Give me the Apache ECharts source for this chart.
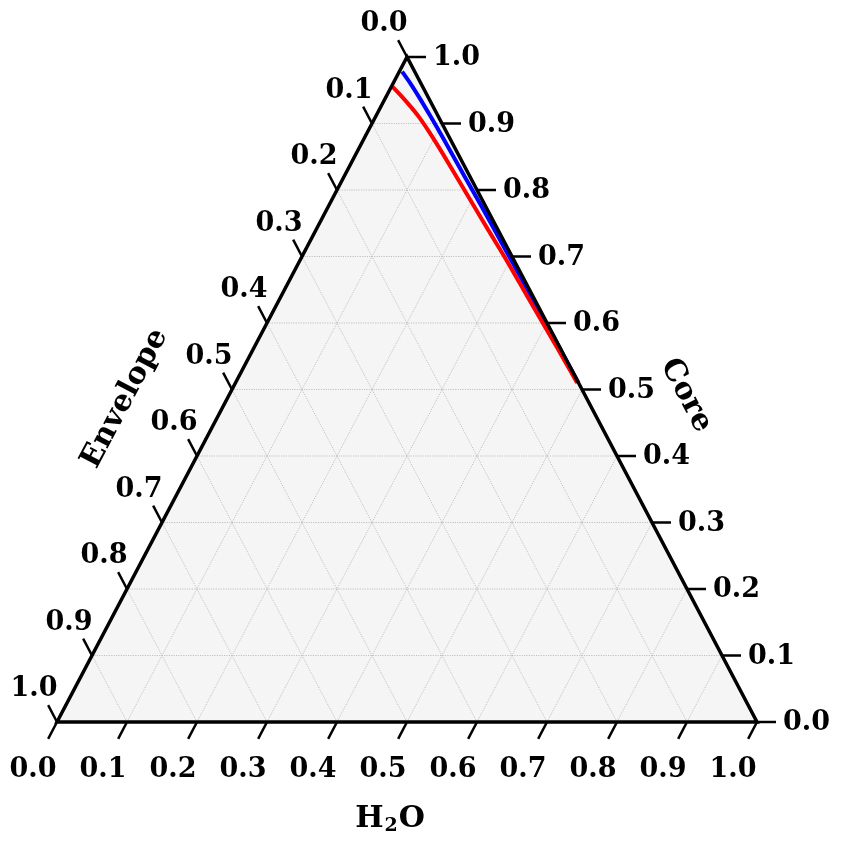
<!DOCTYPE html>
<html>
<head>
<meta charset="utf-8">
<script src="https://cdn.jsdelivr.net/npm/echarts@6/dist/echarts.min.js"></script>
<style>
  html, body { margin: 0; padding: 0; background: #fff; }
  #chart { width: 841px; height: 844px; }
</style>
</head>
<body>
<div id="chart"></div>
<script>
// tick values, same on all three sides
const tickValues = [0.0, 0.1, 0.2, 0.3, 0.4, 0.5, 0.6, 0.7, 0.8, 0.9, 1.0]
const tickLabels = ['0.0', '0.1', '0.2', '0.3', '0.4', '0.5', '0.6', '0.7', '0.8', '0.9', '1.0']
const gridValues = [0.1, 0.2, 0.3, 0.4, 0.5, 0.6, 0.7, 0.8, 0.9]

// red track: core / envelope fractions (H2O is what is left)
const redCore = [0.955, 0.94, 0.925, 0.91, 0.89, 0.86, 0.83, 0.80, 0.77, 0.74, 0.70, 0.66, 0.62, 0.58, 0.54, 0.51]
const redEnvelope = [0.043, 0.037, 0.032, 0.028, 0.025, 0.022, 0.020, 0.018, 0.016, 0.014, 0.011, 0.009, 0.007, 0.005, 0.003, 0.002]

// blue track
const blueCore = [0.978, 0.96, 0.94, 0.91, 0.88, 0.85, 0.82, 0.78, 0.74, 0.70, 0.66, 0.62, 0.58, 0.54, 0.51]
const blueEnvelope = [0.018, 0.015, 0.013, 0.011, 0.0095, 0.0085, 0.0075, 0.006, 0.005, 0.004, 0.003, 0.002, 0.001, 0.0005, 0.0]

const FONT = 'DejaVu Serif'
const TICK_FONT = 'bold 27px "DejaVu Serif"'
const TICK_LEN = 19

// ternary (h2o, core) -> plane: bottom-left (0,0), bottom-right (1,0), top (0.5,1)
function toXY(h2o, core) {
  return [h2o + core / 2, core]
}

function track(core, env) {
  return core.map((c, i) => toXY(1 - c - env[i], c))
}

// grid lines: constant core, constant h2o, constant envelope
const gridLines = []
gridValues.forEach(v => {
  gridLines.push([...toXY(0, v), ...toXY(1 - v, v)])
  gridLines.push([...toXY(v, 0), ...toXY(v, 1 - v)])
  gridLines.push([...toXY(1 - v, 0), ...toXY(0, 1 - v)])
})

// edge directions in pixels (unit vectors)
const LEFT_DIR = [-0.466, 0.885]   // parallel to left edge, pointing down
const RIGHT_DIR = [-0.466, -0.885] // parallel to right edge, pointing up

function tickSeries(side, points) {
  return {
    type: 'custom',
    z: 5,
    clip: false,
    silent: true,
    data: points,
    renderItem: (params, api) => {
      const p = api.coord([api.value(0), api.value(1)])
      const label = tickLabels[params.dataIndex]
      let d, lx, ly, align
      if (side === 'bottom') {
        d = LEFT_DIR
        lx = p[0] - 24; ly = p[1] + 48; align = 'center'
      } else if (side === 'right') {
        d = [1, 0]
        lx = p[0] + 26; ly = p[1] + 1; align = 'left'
      } else {
        d = RIGHT_DIR
        lx = p[0] - 23; ly = p[1] - 33; align = 'center'
      }
      return {
        type: 'group',
        children: [
          {
            type: 'line',
            shape: { x1: p[0], y1: p[1], x2: p[0] + d[0] * TICK_LEN, y2: p[1] + d[1] * TICK_LEN },
            style: { stroke: '#000', lineWidth: 2.5 }
          },
          {
            type: 'text',
            style: { text: label, x: lx, y: ly, font: TICK_FONT, fill: '#000', align: align, verticalAlign: 'middle' }
          }
        ]
      }
    }
  }
}

const chart = echarts.init(document.getElementById('chart'))

const option = {
  animation: false,
  grid: { left: 57, right: 84, top: 57, bottom: 122 },
  xAxis: { type: 'value', min: 0, max: 1, show: false },
  yAxis: { type: 'value', min: 0, max: 1, show: false },
  series: [
    {
      // triangle background
      type: 'custom',
      z: 1,
      silent: true,
      data: [[0, 0]],
      renderItem: (params, api) => ({
        type: 'polygon',
        shape: { points: [api.coord([0, 0]), api.coord([1, 0]), api.coord([0.5, 1])] },
        style: { fill: '#f5f5f5' }
      })
    },
    {
      // dotted grid
      type: 'custom',
      z: 2,
      silent: true,
      data: gridLines,
      encode: { x: [0, 2], y: [1, 3] },
      renderItem: (params, api) => {
        const a = api.coord([api.value(0), api.value(1)])
        const b = api.coord([api.value(2), api.value(3)])
        return {
          type: 'line',
          shape: { x1: a[0], y1: a[1], x2: b[0], y2: b[1] },
          style: { stroke: '#b4b4b4', lineWidth: 0.8, lineDash: [1.2, 1.2] }
        }
      }
    },
    {
      name: 'blue',
      type: 'line',
      z: 3,
      data: track(blueCore, blueEnvelope),
      showSymbol: false,
      smooth: 0.3,
      clip: false,
      lineStyle: { color: '#0000ff', width: 4 }
    },
    {
      name: 'red',
      type: 'line',
      z: 3,
      data: track(redCore, redEnvelope),
      showSymbol: false,
      smooth: 0.3,
      clip: false,
      lineStyle: { color: '#ff0000', width: 4 }
    },
    {
      // triangle outline + axis titles
      type: 'custom',
      z: 4,
      clip: false,
      silent: true,
      data: [[0, 0]],
      renderItem: (params, api) => {
        const bl = api.coord([0, 0])
        const br = api.coord([1, 0])
        const top = api.coord([0.5, 1])
        const bottomMid = api.coord([0.5, 0])
        const leftMid = api.coord(toXY(0, 0.5))
        const rightMid = api.coord(toXY(0.5, 0.5))
        const angle = Math.atan2(bl[1] - top[1], top[0] - bl[0])
        return {
          type: 'group',
          children: [
            {
              type: 'polygon',
              shape: { points: [bl, br, top] },
              style: { fill: null, stroke: '#000', lineWidth: 3.5, lineJoin: 'miter' }
            },
            {
              type: 'text',
              x: bottomMid[0] - 17, y: bottomMid[1] + 97,
              style: {
                text: 'H{sub|2}O', font: 'bold 30px "DejaVu Serif"', fill: '#000',
                align: 'center', verticalAlign: 'middle',
                rich: { sub: { fontSize: 19, fontWeight: 'bold', fontFamily: FONT, padding: [14, 1, 0, 1] } }
              }
            },
            {
              type: 'text',
              x: leftMid[0] - 107, y: leftMid[1] + 9, rotation: angle,
              style: { text: 'Envelope', font: 'bold 30px "DejaVu Serif"', fill: '#000', align: 'center', verticalAlign: 'middle' }
            },
            {
              type: 'text',
              x: rightMid[0] + 104, y: rightMid[1] + 6, rotation: -angle,
              style: { text: 'Core', font: 'bold 30px "DejaVu Serif"', fill: '#000', align: 'center', verticalAlign: 'middle' }
            }
          ]
        }
      }
    },
    tickSeries('bottom', tickValues.map(v => toXY(v, 0))),
    tickSeries('right', tickValues.map(v => toXY(1 - v, v))),
    tickSeries('left', tickValues.map(v => toXY(0, 1 - v)))
  ]
}

chart.setOption(option)
</script>
</body>
</html>
